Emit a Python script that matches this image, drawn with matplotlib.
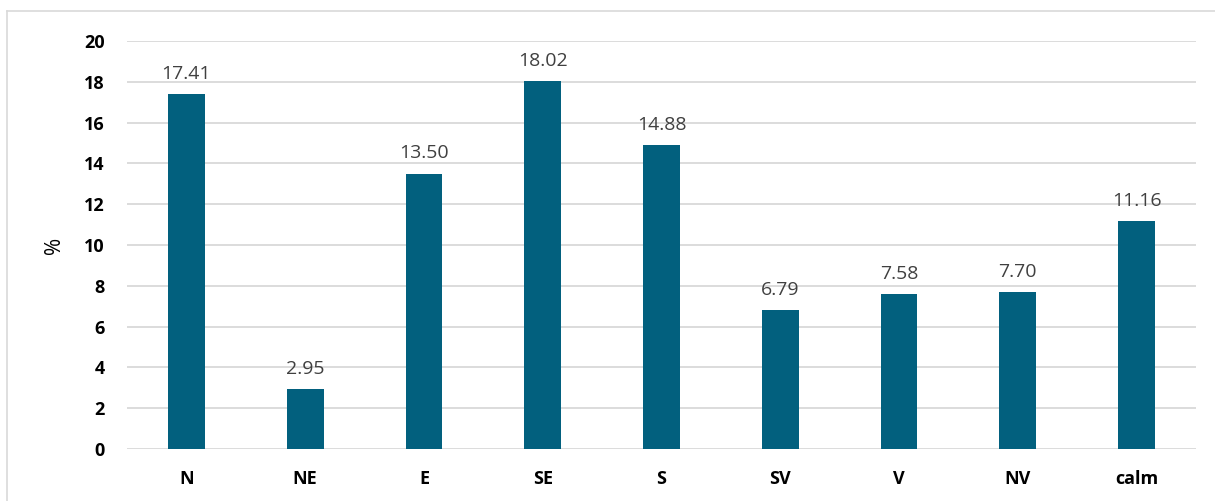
import matplotlib
matplotlib.use("Agg")
import matplotlib.pyplot as plt
from matplotlib.lines import Line2D

categories = ["N", "NE", "E", "SE", "S", "SV", "V", "NV", "calm"]
values = [17.41, 2.95, 13.50, 18.02, 14.88, 6.79, 7.58, 7.70, 11.16]
yticks = [0, 2, 4, 6, 8, 10, 12, 14, 16, 18, 20]

plt.rcParams['font.family'] = ['Open Sans', 'DejaVu Sans']

fig = plt.figure(figsize=(12.15, 5.01), dpi=100)
ax = fig.add_axes([127/1215, 1-449/501, (1196-127)/1215, (449-41)/501])

x = list(range(len(categories)))
bars = ax.bar(x, values, width=0.31, color="#02607E", zorder=3)
for xi, v in zip(x, values):
    ax.annotate(f"{v:.2f}", (xi, v), xytext=(0, 8), textcoords="offset points",
                ha="center", va="bottom", fontsize=14, color="#404040")

ax.set_xlim(-0.5, len(categories)-0.5)
ax.set_ylim(0, 20)
ax.set_yticks(yticks)
ax.set_yticklabels([str(t) for t in yticks], fontsize=13, fontweight="bold")
ax.set_xticks(x)
ax.set_xticklabels(categories, fontsize=13, fontweight="bold")
ax.tick_params(axis="y", length=0, pad=16)
ax.tick_params(axis="x", length=0, pad=15)
ax.yaxis.grid(True, color="#D9D9D9", linewidth=1.3, zorder=0)
for s in ax.spines.values():
    s.set_visible(False)
ax.set_ylabel("%", fontsize=15, labelpad=14)

fig.add_artist(Line2D([7/1215, 7/1215], [0, 1-11/501], color="#D9D9D9", linewidth=1.2, transform=fig.transFigure))
fig.add_artist(Line2D([7/1215, 1], [1-11/501, 1-11/501], color="#D9D9D9", linewidth=1.2, transform=fig.transFigure))

fig.savefig("out.png", dpi=100)
